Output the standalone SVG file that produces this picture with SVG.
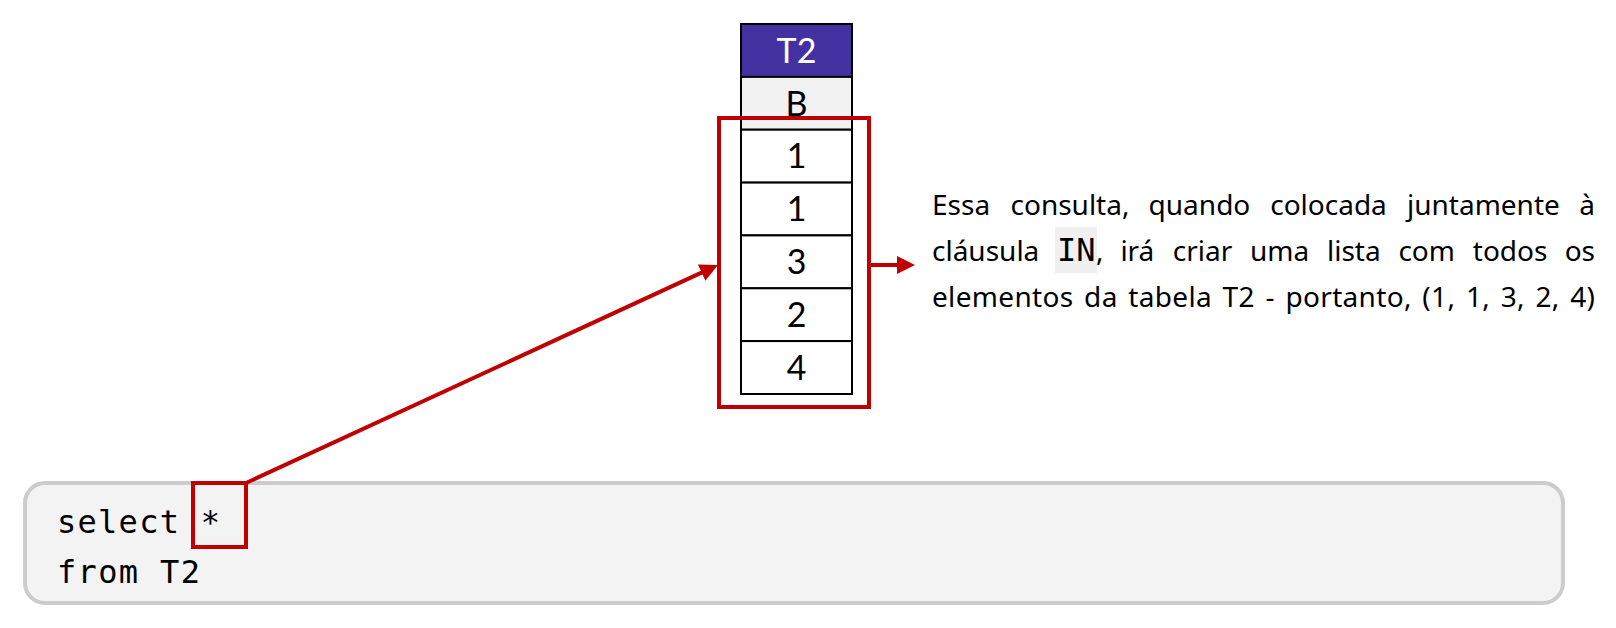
<svg xmlns="http://www.w3.org/2000/svg" width="1616" height="628" viewBox="0 0 1616 628">
  <style>
    .cell { fill: #ffffff; stroke: #000000; stroke-width: 2; }
    .hdr { fill: #4331a1; stroke: #000000; stroke-width: 2; }
    .sub { fill: #f2f2f2; stroke: #000000; stroke-width: 2; }
    .tt { font-family: Lato, "Noto Sans", sans-serif; font-size: 34px; fill: #000000; text-anchor: middle; }
    .th { font-family: Lato, "Noto Sans", sans-serif; font-size: 34px; fill: #ffffff; text-anchor: middle; }
    .hl { fill: none; stroke: #c00000; stroke-width: 4; }
    .conn { fill: none; stroke: #c00000; stroke-width: 4; }
    .desc { font-family: "Noto Sans", "Open Sans", sans-serif; font-size: 28px; fill: #000000; }
    .mono { font-family: "DejaVu Sans Mono", "Liberation Mono", monospace; fill: #000000; }
  </style>
  <defs>
    <marker id="ah" markerUnits="userSpaceOnUse" markerWidth="20" markerHeight="18" refX="10" refY="9" orient="auto">
      <path d="M0,0 L18,9 L0,18 z" fill="#c00000"/>
    </marker>
  </defs>

  <rect width="1616" height="628" fill="#ffffff"/>

  <g id="code">
    <rect x="25" y="483" width="1538" height="120" rx="20" ry="20" fill="#f3f3f3" stroke="#cccccc" stroke-width="4"/>
    <text class="mono" x="57" y="533" font-size="32" textLength="163" lengthAdjust="spacing">select *</text>
    <text class="mono" x="57" y="583" font-size="32" textLength="143" lengthAdjust="spacing">from T2</text>
    <rect id="star-box" class="hl" x="193" y="483" width="53" height="64"/>
  </g>

  <g id="table-T2">
    <rect class="hdr" x="741" y="24" width="111" height="52.9"/>
    <text class="th" x="796.5" y="62.6">T2</text>
    <rect class="sub" x="741" y="76.9" width="111" height="52.8"/>
    <text class="tt" x="796.5" y="115.5">B</text>
    <rect class="cell" x="741" y="129.7" width="111" height="52.9"/>
    <text class="tt" x="796.5" y="168.3">1</text>
    <rect class="cell" x="741" y="182.6" width="111" height="52.8"/>
    <text class="tt" x="796.5" y="221.2">1</text>
    <rect class="cell" x="741" y="235.4" width="111" height="52.9"/>
    <text class="tt" x="796.5" y="274.1">3</text>
    <rect class="cell" x="741" y="288.3" width="111" height="52.8"/>
    <text class="tt" x="796.5" y="326.9">2</text>
    <rect class="cell" x="741" y="341.1" width="111" height="52.9"/>
    <text class="tt" x="796.5" y="379.8">4</text>
  </g>

  <g id="values-highlight">
    <rect class="hl" x="719" y="118" width="150" height="289"/>
  </g>

  <g id="description">
    <text class="desc" y="215">
      <tspan x="932">Essa</tspan>
      <tspan x="1010.5">consulta,</tspan>
      <tspan x="1148.6">quando</tspan>
      <tspan x="1270.2">colocada</tspan>
      <tspan x="1407">juntamente</tspan>
    </text>
    <text class="desc" x="1595" y="215" text-anchor="end">à</text>
    <rect x="1055" y="227" width="42" height="46" fill="#f0f0f0"/>
    <text class="desc" x="932" y="261">cláusula</text>
    <text class="mono" x="1057" y="261" font-size="32">IN</text>
    <text class="desc" y="261">
      <tspan x="1096">,</tspan>
      <tspan x="1120.4">irá</tspan>
      <tspan x="1172.8">criar</tspan>
      <tspan x="1250">uma</tspan>
      <tspan x="1327">lista</tspan>
      <tspan x="1398.4">com</tspan>
      <tspan x="1472.8">todos</tspan>
    </text>
    <text class="desc" x="1595" y="261" text-anchor="end">os</text>
    <text class="desc" x="932" y="307" textLength="663" lengthAdjust="spacing" word-spacing="3">elementos da tabela T2 - portanto, (1, 1, 3, 2, 4)</text>
  </g>

  <g id="connectors">
    <path class="conn" d="M246,483 L710.7,268.4" marker-end="url(#ah)"/>
    <path class="conn" d="M871,265 L907,265" marker-end="url(#ah)"/>
  </g>
</svg>
